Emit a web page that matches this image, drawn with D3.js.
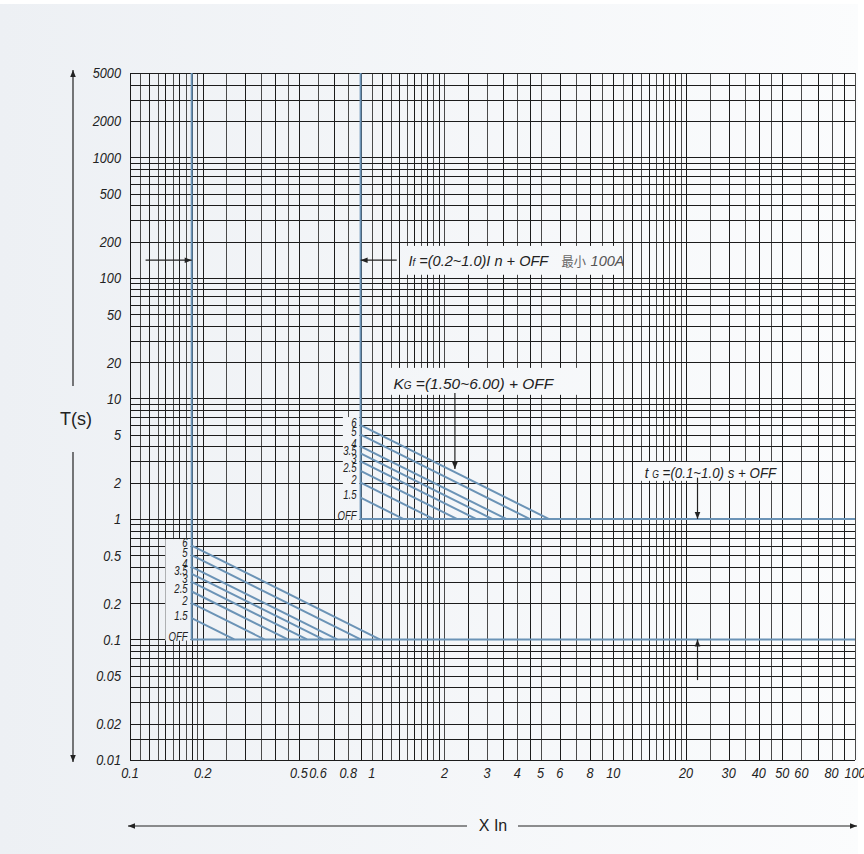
<!DOCTYPE html>
<html><head><meta charset="utf-8">
<script src="https://cdn.jsdelivr.net/npm/d3@7"></script>
<style>
html,body{margin:0;padding:0;background:#fff;}
svg{display:block;}
text{font-family:"Liberation Sans",Arial,sans-serif;fill:#222;}
</style></head><body>
<svg id="chart" width="864" height="854"></svg>
<script>
// ---- data ----
const xDomain = [0.1, 100];
const yDomain = [0.01, 5000];
const xDecades = [0.1, 1, 10];
const xSteps = [1,1.1,1.2,1.3,1.4,1.5,1.6,1.7,1.8,1.9,2,2.5,3,3.5,4,4.5,5,6,7,8,9];
const yDecades = [0.01, 0.1, 1, 10, 100, 1000];
const ySteps = [1,2,3,4,5,6,7,8,9];
const yExtraGrid = [0.015];
const xTickLabels = [0.1,0.2,0.5,0.6,0.8,1,2,3,4,5,6,8,10,20,30,40,50,60,80,100];
const yTickLabels = [5000,2000,1000,500,200,100,50,20,10,5,2,1,0.5,0.2,0.1,0.05,0.02,0.01];
const kValues = [6,5,4,3.5,3,2.5,2,1.5];
const kLabels = ["6","5","4","3.5","3","2.5","2","1.5","OFF"];
const kLabelValues = [6,5,4,3.5,3,2.5,2,1.5,1];
const groupIr = [0.18, 0.9];   // pickup current (x In)
const groupTg = [0.1, 1.0];    // delay time (s)

// ---- setup ----
const W = 864, H = 854;
const SX = 0.82; // horizontal condensing of italic labels
const svg = d3.select("#chart");
const x = d3.scaleLog().domain(xDomain).range([130, 855]);
const y = d3.scaleLog().domain(yDomain).range([760, 73]);
const BLUE = "#6b93b6";

const defs = svg.append("defs");
const grad = defs.append("linearGradient").attr("id","bg").attr("gradientUnits","userSpaceOnUse")
  .attr("x1",0).attr("y1",0).attr("x2",W).attr("y2",0);
grad.append("stop").attr("offset","0%").attr("stop-color","#edf0f4");
grad.append("stop").attr("offset","100%").attr("stop-color","#fbfcfd");
defs.append("marker").attr("id","ah").attr("viewBox","0 0 10 10").attr("refX",10).attr("refY",5)
  .attr("markerWidth",8).attr("markerHeight",7).attr("markerUnits","userSpaceOnUse").attr("orient","auto")
  .append("path").attr("d","M0,1 L10,5 L0,9 Z").attr("fill","#222");

svg.append("rect").attr("x",0).attr("y",4).attr("width",858).attr("height",H-4).attr("fill","url(#bg)");

// ---- grid ----
const xGrid = [];
xDecades.forEach(d => xSteps.forEach(s => xGrid.push(+(d*s).toPrecision(4))));
xGrid.push(100);
const yGrid = [];
yDecades.forEach(d => ySteps.forEach(s => { const v = +(d*s).toPrecision(4); if (v <= 5000) yGrid.push(v); }));
yExtraGrid.forEach(v => yGrid.push(v));

const grid = svg.append("g").attr("shape-rendering","crispEdges");
grid.selectAll("line.v").data(xGrid).join("line").attr("class","v")
  .attr("x1",d=>Math.round(x(d))+0.5).attr("x2",d=>Math.round(x(d))+0.5)
  .attr("y1",y.range()[1]).attr("y2",y.range()[0])
  .attr("stroke",(d,i)=> i%2 ? "#4a4a4a" : "#1c1c1c").attr("stroke-width",1);
grid.selectAll("line.h").data(yGrid).join("line").attr("class","h")
  .attr("y1",d=>Math.round(y(d))+0.5).attr("y2",d=>Math.round(y(d))+0.5)
  .attr("x1",x.range()[0]).attr("x2",x.range()[1])
  .attr("stroke","#1c1c1c").attr("stroke-width",1);

// ---- masks (label boxes covering grid) ----
const boxes = [
  // [xmin,xmax,ymax,ymin] in data units
  [0.14, 0.178, 0.68, 0.098],    // lower K labels
  [0.76, 0.89, 7.0, 0.98],       // upper K labels
  [1.31, 10.9, 184, 106],        // If text
  [1.2, 7.4, 17.9, 10.7],        // KG text
  [13.0, 47.5, 2.97, 2.07]       // tG text
];
svg.append("g").selectAll("rect").data(boxes).join("rect")
  .attr("x",d=>x(d[0])).attr("width",d=>x(d[1])-x(d[0]))
  .attr("y",d=>y(d[2])).attr("height",d=>y(d[3])-y(d[2]))
  .attr("fill","url(#bg)");

// ---- curves ----
const line = d3.line().x(d=>x(d[0])).y(d=>y(d[1]));
const curves = svg.append("g").attr("fill","none").attr("stroke",BLUE).attr("stroke-width",2);
groupIr.forEach((ir, gi) => {
  const tg = groupTg[gi];
  curves.append("path").attr("d", line([[ir, yDomain[1]], [ir, tg], [xDomain[1], tg]]));
  kValues.forEach(k => {
    curves.append("path").attr("d", line([[ir, k*tg], [k*ir, tg]]));
  });
  // K labels
  svg.append("g").selectAll("text").data(kLabels).join("text")
    .attr("transform", (d,i) => `translate(${x(ir) - 4},${y(kLabelValues[i]*tg) - 1}) scale(0.8,1)`)
    .attr("dy", "0.2em")
    .attr("text-anchor","end").attr("font-style","italic").attr("font-size",12)
    .text(d=>d);
});

// ---- axis tick labels ----
const fmt = v => String(v);
svg.append("g").selectAll("text").data(xTickLabels).join("text")
  .attr("transform", d => `translate(${x(d)},778) scale(${SX},1)`)
  .attr("text-anchor","middle")
  .attr("font-style","italic").attr("font-size",15.5).text(fmt);
svg.append("g").selectAll("text").data(yTickLabels).join("text")
  .attr("transform", d => `translate(121,${y(d)}) scale(${SX},1)`)
  .attr("dy","0.35em").attr("text-anchor","end")
  .attr("font-style","italic").attr("font-size",15.5).text(fmt);

// ---- axis titles with arrows ----
const ax = svg.append("g").attr("stroke","#222").attr("stroke-width",1.2);
ax.append("line").attr("x1",73).attr("x2",73).attr("y1",386).attr("y2",70).attr("marker-end","url(#ah)");
ax.append("line").attr("x1",73).attr("x2",73).attr("y1",452).attr("y2",762).attr("marker-end","url(#ah)");
ax.append("line").attr("x1",467).attr("x2",128).attr("y1",826).attr("y2",826).attr("marker-end","url(#ah)");
ax.append("line").attr("x1",518).attr("x2",857).attr("y1",826).attr("y2",826).attr("marker-end","url(#ah)");
svg.append("text").attr("x",76).attr("y",425).attr("text-anchor","middle")
  .attr("font-size",18).text("T(s)");
svg.append("text").attr("x",493).attr("y",831).attr("text-anchor","middle")
  .attr("font-size",16).text("X In");

// ---- annotation arrows (data coordinates) ----
const arrows = [
  [[0.116,140],[0.18,140]],
  [[1.27,140],[0.9,140]],
  [[2.21,11.1],[2.21,2.6]],
  [[22.3,2.2],[22.3,1.0]],
  [[22.3,0.046],[22.3,0.1]]
];
svg.append("g").selectAll("line").data(arrows).join("line")
  .attr("x1",d=>x(d[0][0])).attr("y1",d=>y(d[0][1]))
  .attr("x2",d=>x(d[1][0])).attr("y2",d=>y(d[1][1]))
  .attr("stroke","#222").attr("stroke-width",1.2).attr("marker-end","url(#ah)");

// ---- annotation texts ----
function note(px, py, sx) {
  return svg.append("text").attr("transform", `translate(${px},${py}) scale(${sx},1)`)
    .attr("dy","0.36em").attr("font-style","italic").attr("font-size",15.5);
}
const t1 = note(x(1.42), y(140), 0.94);
t1.append("tspan").text("I");
t1.append("tspan").attr("font-size",10).text("f");
t1.append("tspan").text("  =(0.2~1.0)I n + OFF");
t1.append("tspan").attr("dx",14).attr("font-style","normal").attr("fill","#666")
  .style("font-family","'Noto Sans CJK SC',sans-serif").attr("font-size",13).text("最小");
t1.append("tspan").attr("dx",5).attr("fill","#555").text("100A");

const t2 = note(x(1.23), y(13.4), 1.0);
t2.append("tspan").text("K");
t2.append("tspan").attr("font-size",10).text("G");
t2.append("tspan").text(" =(1.50~6.00) + OFF");

const t3 = note(x(13.5), y(2.45), 0.86);
t3.append("tspan").text("t ");
t3.append("tspan").attr("font-size",10).text("G");
t3.append("tspan").text(" =(0.1~1.0) s + OFF");
</script>
</body></html>
